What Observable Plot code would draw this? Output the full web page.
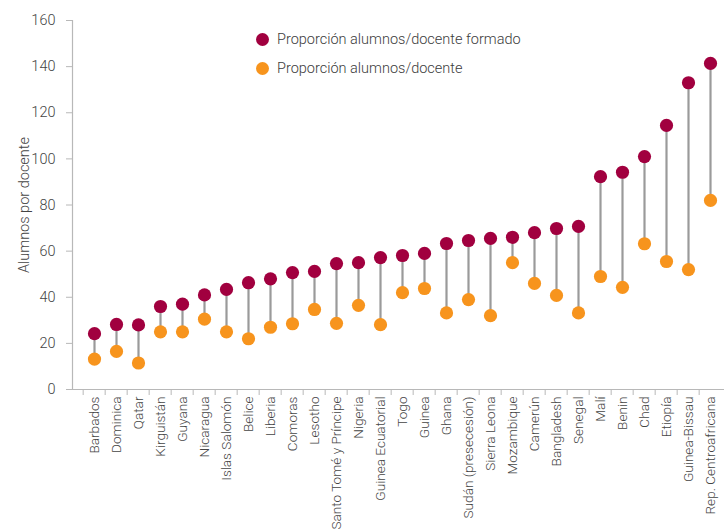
<!DOCTYPE html>
<html>
<head>
<meta charset="utf-8">
<script src="https://cdn.jsdelivr.net/npm/d3@7"></script>
<script src="https://cdn.jsdelivr.net/npm/@observablehq/plot@0.6"></script>
<style>
  html, body { margin: 0; padding: 0; background: #fff; overflow: hidden; }
  #wrap { position: relative; width: 724px; height: 531px; }
  .legend { position: absolute; left: 256px; font-family: Roboto, sans-serif; font-weight: 300; font-size: 14.5px; color: #3c3c3c; display: flex; align-items: center; }
  .legend .sw { width: 13px; height: 13px; border-radius: 50%; margin-right: 8px; }
</style>
</head>
<body>
<div id="wrap"></div>
<script>
const countries = ["Barbados","Dominica","Qatar","Kirguistán","Guyana","Nicaragua","Islas Salomón","Belice","Liberia","Comoras","Lesotho","Santo Tomé y Príncipe","Nigeria","Guinea Ecuatorial","Togo","Guinea","Ghana","Sudán (presecesión)","Sierra Leona","Mozambique","Camerún","Bangladesh","Senegal","Malí","Benin","Chad","Etiopía","Guinea-Bissau","Rep. Centroafricana"];
const ratioFormado = [24.2,28.2,28,36,37,41,43.4,46.3,48,50.7,51.2,54.6,55,57.2,58.1,59,63.3,64.6,65.5,66,68,69.8,70.7,92.3,94.2,101,114.5,133,141.4];
const ratioAlumnos = [13.2,16.5,11.5,25,25,30.5,25,22,27,28.5,34.7,28.7,36.5,28.1,42,43.8,33.2,39,32,55,46,40.8,33.2,49,44.3,63.2,55.5,52,82];
const yTicks = [0,20,40,60,80,100,120,140,160];
const legendItems = ["Proporción alumnos/docente formado","Proporción alumnos/docente"];
const colors = ["#A1003F","#F7941D"];

const data = countries.map((c, i) => ({country: c, formado: ratioFormado[i], alumnos: ratioAlumnos[i]}));
const n = countries.length;
const x0 = 72.7, bw = 22.68;

const chart = Plot.plot({
  width: 724, height: 531,
  marginLeft: 72, marginRight: 0, marginTop: 20, marginBottom: 142,
  style: {fontFamily: "Roboto, sans-serif", fontSize: "14px", color: "#444", background: "transparent", fontWeight: 300},
  x: {type: "band", domain: countries, range: [x0, x0 + bw * n], padding: 0, label: null},
  y: {domain: [0, 160], label: null},
  marks: [
    Plot.ruleY([0], {stroke: "#b8b8b8", strokeWidth: 1.2}),
    Plot.frame({anchor: "left", stroke: "#b8b8b8", strokeWidth: 1.2}),
    Plot.axisY({ticks: yTicks, tickSize: 6, tickPadding: 11, stroke: "#b8b8b8", fontSize: 14.5, fill: "#444",
      label: "Alumnos por docente", labelAnchor: "center", labelOffset: 54, labelArrow: "none"}),
    Plot.axisX({tickSize: 6, tickFormat: () => "", dx: -bw / 2, stroke: "#b8b8b8", label: null}),
    Plot.axisX({tickSize: 0, tickRotate: -90, tickPadding: 7, fontSize: 13.6, fill: "#444", label: null}),
    Plot.ruleX(data, {x: "country", y1: "alumnos", y2: "formado", stroke: "#9a9a9a", strokeWidth: 2.2}),
    Plot.dot(data, {x: "country", y: "alumnos", r: 6.6, fill: colors[1]}),
    Plot.dot(data, {x: "country", y: "formado", r: 6.6, fill: colors[0]})
  ]
});
const wrap = document.getElementById("wrap");
wrap.appendChild(chart);
legendItems.forEach((t, i) => {
  const d = document.createElement("div");
  d.className = "legend";
  d.style.top = (31 + i * 29) + "px";
  d.innerHTML = `<span class="sw" style="background:${colors[i]}"></span><span>${t}</span>`;
  wrap.appendChild(d);
});
</script>
</body>
</html>
